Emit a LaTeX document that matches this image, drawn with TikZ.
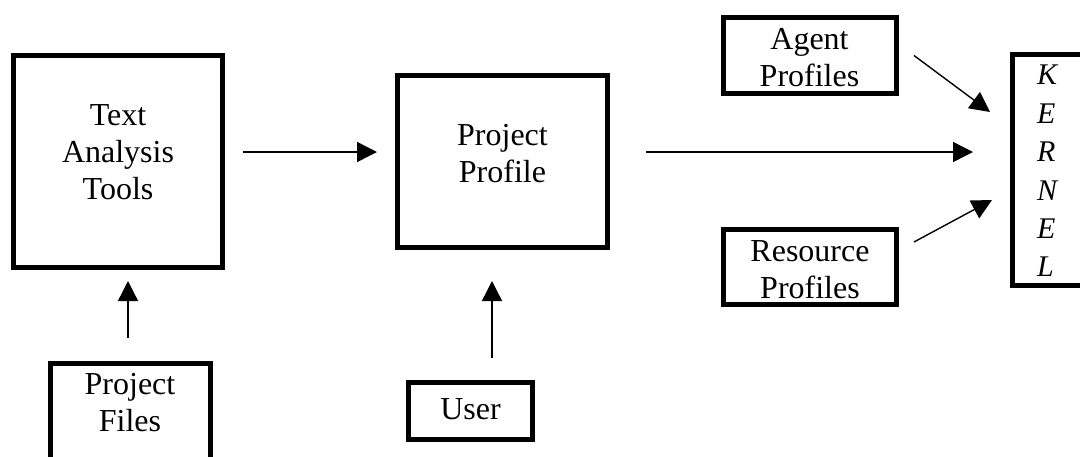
\documentclass[tikz,border=0pt]{standalone}
\usepackage{fontspec}
\setmainfont{Liberation Serif}
\usetikzlibrary{arrows.meta,calc}
\begin{document}
\begin{tikzpicture}[x=1pt,y=-1pt,
  box/.style={draw,line width=5pt,inner sep=0pt},
  txt/.style={inner sep=0pt,align=center,font=\fontsize{32pt}{37pt}\selectfont},
  flow/.style={line width=1.4pt,-{Triangle[length=20pt,width=20pt]}}
]
\useasboundingbox (0,0) rectangle (1080,456);
\clip (0,0) rectangle (1080,456);

% boxes
\node[box,minimum width=209pt,minimum height=212pt] (tat) at (118,161.5) {};
\node[box,minimum width=210pt,minimum height=172pt] (pp) at (502.5,161.5) {};
\node[box,minimum width=173pt,minimum height=76pt] (agent) at (810,55.5) {};
\node[box,minimum width=173pt,minimum height=75pt] (res) at (810,267) {};
\node[box,minimum width=124pt,minimum height=57pt] (user) at (470.5,411) {};
\node[box,minimum width=160pt,minimum height=136.5pt] (pf) at (130.5,431.75) {};
\node[box,minimum width=105pt,minimum height=231pt] (kernel) at (1065,170) {};

% labels
\node[txt] (tatlbl) at (118,152.4) {Text\\Analysis\\Tools};
\node[txt] (pplbl) at (502.5,153.5) {Project\\Profile};
\node[txt] (agentlbl) at (809.5,57.7) {Agent\\Profiles};
\node[txt] (reslbl) at (810,269.4) {Resource\\Profiles};
\node[txt] (userlbl) at (470.5,409.4) {User};
\node[txt] (pflbl) at (130,402.5) {Project\\Files};
\node[txt,align=left,anchor=west,font=\fontsize{30pt}{38.4pt}\selectfont\itshape]
  (kernellbl) at (1037,171) {K\\E\\R\\N\\E\\L};

% connectors
\draw[flow] ($(tat.east)+(18,-9.5)$) -- ($(pp.west)+(-18,-9.5)$);
\draw[flow] ($(pp.east)+(36,-9.5)$) -- ($(kernel.west)+(-37,-18)$);
\draw[flow] ($(agent.east)+(15,0)$) -- ($(kernel.west)+(-20,-58)$);
\draw[flow] ($(res.east)+(15,-25)$) -- ($(kernel.west)+(-18,30)$);
\draw[flow] ($(pf.north)+(-2.5,-23)$) -- ($(tat.south)+(10,11)$);
\draw[flow] ($(user.north)+(21.5,-22)$) -- ($(pp.south)+(-10.5,31)$);
\end{tikzpicture}
\end{document}
